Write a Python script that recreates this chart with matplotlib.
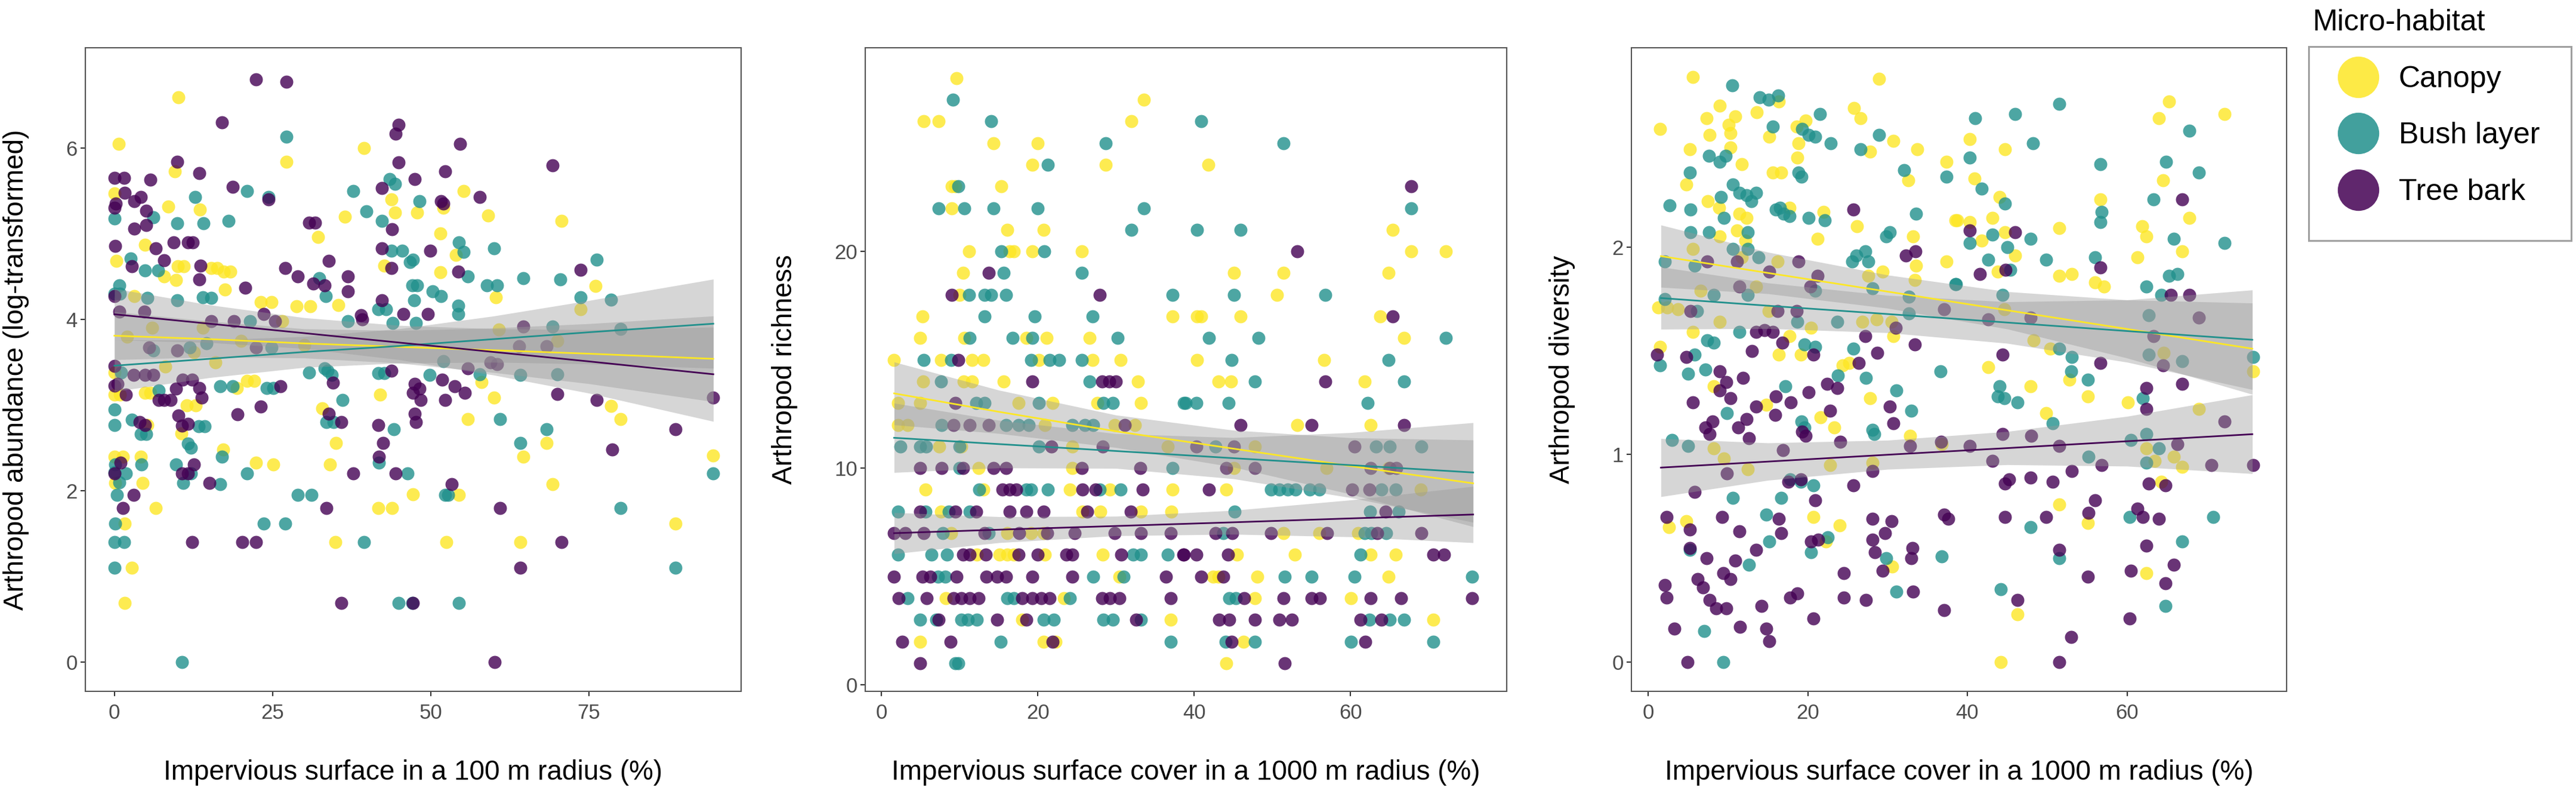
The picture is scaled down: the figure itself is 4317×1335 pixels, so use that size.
import matplotlib
matplotlib.use("Agg")
import matplotlib.pyplot as plt
from matplotlib.lines import Line2D
from matplotlib.patches import Rectangle
import numpy as np

plt.rcParams["font.family"] = ["Liberation Sans", "DejaVu Sans"]

HABITATS = ["Canopy", "Bush layer", "Tree bark"]
COLORS = ["#FDE725", "#21908C", "#440154"]

# ---- panel 1: abundance vs impervious surface (100 m) ----
P1_CANOPY = [
    (10.1, 6.59), (0.7, 6.05), (27.2, 5.84), (9.6, 5.73), (39.5, 6.0), (0, 5.47), (8.5, 5.32), (13.5, 5.28),
    (4.8, 4.87), (0.3, 4.68), (10, 4.62), (11, 4.62), (15.3, 4.6), (16.3, 4.6), (7.9, 4.5), (17.3, 4.56),
    (18.3, 4.56), (9.7, 4.46), (17.5, 4.35), (23.1, 4.2), (24.8, 4.2), (32.2, 4.96), (28.8, 4.15), (31, 4.15),
    (35.4, 4.17), (36.4, 5.2), (43.8, 5.4), (44.4, 5.25), (42.7, 4.63), (3.1, 4.27), (12.6, 3.62), (26.5, 3.98),
    (0, 3.38), (0, 3.12), (0.9, 3.12), (4.8, 3.14), (5.7, 3.14), (11.4, 3.0), (12.9, 3.0), (10.6, 2.67),
    (5.2, 2.77), (19.4, 3.2), (21, 3.28), (22.1, 3.28), (32.9, 2.96), (35, 2.56), (34.1, 2.31), (42, 3.12),
    (0, 2.4), (1.3, 2.4), (0.1, 2.09), (1.6, 1.62), (2.8, 1.1), (1.6, 0.69), (4.2, 2.4), (4.5, 2.09),
    (6.5, 1.8), (17.2, 2.48), (22.4, 2.33), (25.1, 2.31), (34.9, 1.4), (41.7, 1.8), (43.9, 1.8), (47.2, 1.96),
    (55.2, 5.5), (52, 5.3), (47.9, 5.25), (59.1, 5.21), (70.7, 5.15), (51.5, 5.0), (54, 4.75), (51.5, 4.55),
    (76.1, 4.39), (60.3, 4.26), (73.7, 4.12), (60.8, 3.88), (70, 3.75), (58.1, 3.27), (60, 3.09), (78.5, 2.99),
    (80, 2.84), (55.9, 2.84), (68.3, 2.56), (64.7, 2.4), (94.7, 2.41), (69.3, 2.08), (54.5, 1.95), (88.7, 1.62),
    (52.5, 1.4), (64.2, 1.4), (2, 3.8), (6, 3.9), (14, 3.9), (20, 3.75), (8, 3.45), (16, 3.5), (30, 3.7),
]
P1_BUSH = [
    (27.2, 6.13), (21, 5.5), (12.8, 5.43), (24.4, 5.43), (0, 5.18), (6.2, 5.19), (9.9, 5.12), (14.1, 5.12),
    (18, 5.15), (2.6, 4.71), (4.8, 4.57), (6.9, 4.57), (0.8, 4.4), (9.9, 4.22), (14, 4.26), (15.3, 4.25),
    (32.4, 4.48), (33.4, 4.27), (37.8, 5.5), (39.8, 5.26), (36.9, 3.98), (43.5, 5.64), (44.4, 5.58), (42.3, 5.15),
    (43.8, 4.8), (45.5, 4.8), (46.7, 4.67), (47.1, 4.4), (41.7, 4.12), (43, 4.12), (44, 3.96), (47.7, 3.96),
    (0, 4.3), (0.9, 4.3), (5.2, 4.25), (6.2, 3.64), (11.9, 3.67), (14.6, 3.72), (21.4, 3.98), (24.8, 3.67),
    (30.8, 3.38), (33.2, 3.43), (1.1, 3.38), (7, 3.17), (13.3, 2.75), (14.3, 2.75), (11.6, 2.55), (12.1, 2.5),
    (0, 2.95), (0, 2.77), (2.8, 2.83), (4.2, 2.66), (5, 2.66), (16.7, 3.22), (18.7, 3.22), (24.1, 3.2),
    (25.1, 3.2), (33.7, 3.4), (34.4, 3.35), (36.1, 3.06), (33.5, 2.8), (34.7, 2.8), (41.7, 3.37), (42.7, 3.37),
    (41.8, 2.33), (44.2, 2.72), (46.4, 2.2), (0.1, 2.31), (0, 2.22), (1.8, 2.2), (0.8, 2.1), (0.4, 1.95),
    (0.1, 1.62), (0, 1.4), (1.5, 1.4), (0, 1.1), (4.3, 2.31), (9.7, 2.31), (10.9, 2.09), (12.1, 2.2),
    (16.7, 2.08), (17, 2.4), (21, 2.2), (23.6, 1.62), (27, 1.62), (29, 1.95), (31.2, 1.95), (39.5, 1.4),
    (10.7, 0), (44.9, 0.69), (47.1, 0.69), (48.2, 5.38), (54.5, 4.9), (55.2, 4.79), (60, 4.83), (47.2, 4.7),
    (55.9, 4.5), (76.3, 4.7), (64.7, 4.48), (70.5, 4.47), (58.9, 4.4), (60.5, 4.4), (47.9, 4.4), (50.3, 4.33),
    (51.6, 4.27), (47.4, 4.22), (54.4, 4.16), (54.4, 4.06), (73.7, 4.26), (78.5, 4.23), (69.3, 3.92), (80, 3.89),
    (52, 3.51), (57.8, 3.36), (49.8, 3.35), (64.2, 3.35), (70, 3.36), (61, 2.84), (68.3, 2.72), (64.2, 2.56),
    (94.7, 2.2), (52.3, 1.95), (52.8, 1.95), (80, 1.8), (88.7, 1.1), (54.5, 0.69),
]
P1_BARK = [
    (22.4, 6.8), (27.2, 6.77), (17.0, 6.3), (9.9, 5.84), (44.9, 6.27), (44.5, 6.17), (44.9, 5.83), (47.5, 5.64),
    (0, 5.65), (1.5, 5.65), (5.7, 5.63), (13.4, 5.71), (18.7, 5.55), (24.4, 5.4), (1.6, 5.48), (0, 5.3),
    (0.2, 5.35), (3.1, 5.38), (4.2, 5.43), (5, 5.27), (3.1, 5.06), (5, 5.1), (0.1, 4.86), (9.4, 4.9),
    (11.6, 4.9), (12.4, 4.9), (6.5, 4.83), (7.9, 4.69), (2.8, 4.62), (13.4, 4.47), (13.6, 4.63), (20.7, 4.37),
    (0, 4.27), (23.6, 4.06), (27, 4.6), (29, 4.5), (30.8, 5.13), (31.7, 5.13), (31.4, 4.42), (33.2, 4.4),
    (33.9, 4.68), (36.9, 4.33), (36.9, 4.5), (42.3, 5.53), (43.9, 5.05), (42.3, 4.83), (43.8, 4.6), (42.3, 4.22),
    (45.7, 4.06), (39, 4.05), (39.2, 4.0), (0.8, 4.09), (4.7, 4.09), (5.5, 3.67), (9.9, 3.64), (18.9, 3.98),
    (15.3, 3.98), (25.4, 3.98), (22.4, 3.67), (0, 3.46), (0, 3.23), (0.5, 3.25), (1.8, 3.12), (3, 3.35),
    (4.8, 3.35), (6.2, 3.35), (7, 3.06), (7.9, 3.06), (8.9, 3.06), (9.7, 3.19), (10.8, 3.3), (12.3, 3.3),
    (13.4, 3.2), (13.8, 3.09), (10.1, 2.88), (10.7, 2.76), (11.6, 2.78), (4, 2.8), (4.8, 2.77), (19.5, 2.89),
    (23.1, 2.98), (26.3, 3.22), (34.6, 3.26), (33.9, 2.9), (35.9, 2.8), (37.8, 2.2), (43.8, 3.4), (41.7, 2.77),
    (42.5, 2.56), (41.8, 2.4), (44.5, 2.2), (47.2, 3.14), (47.5, 2.9), (47.7, 2.8), (0, 2.2), (1, 2.33),
    (3, 1.95), (1.3, 1.8), (10.7, 2.2), (11.6, 2.2), (12.6, 2.31), (15, 2.09), (12.3, 1.4), (20.2, 1.4),
    (22.4, 1.4), (33.5, 1.8), (35.9, 0.69), (54.7, 6.05), (69.3, 5.8), (52.3, 5.73), (57.8, 5.43), (51.6, 5.38),
    (52, 5.35), (49.9, 4.8), (54.4, 4.56), (73.7, 4.58), (49.6, 4.06), (64.7, 3.92), (64, 3.69), (68.3, 3.69),
    (55.9, 3.43), (59.5, 3.5), (60.5, 3.48), (47.5, 3.25), (48.2, 3.19), (48.4, 3.06), (51.8, 3.3), (53.8, 3.22),
    (55.4, 3.14), (52.3, 3.06), (70, 3.13), (76.3, 3.06), (94.7, 3.09), (88.7, 2.72), (78.7, 2.48), (53.3, 2.08),
    (61, 1.8), (70.7, 1.4), (64.2, 1.1), (47.2, 0.69), (60.1, 0),
]
P1_FIT_X = [0, 15, 30, 45, 60, 75, 94.7]
P1_FIT = [
    [3.81, 3.77, 3.72, 3.68, 3.64, 3.60, 3.54],
    [3.46, 3.54, 3.62, 3.69, 3.77, 3.85, 3.95],
    [4.06, 3.95, 3.84, 3.73, 3.62, 3.51, 3.36],
]
P1_CI = [
    [0.28, 0.21, 0.17, 0.19, 0.26, 0.35, 0.50],
    [0.30, 0.22, 0.18, 0.20, 0.27, 0.37, 0.52],
    [0.30, 0.22, 0.18, 0.20, 0.27, 0.37, 0.55],
]

# ---- panel 2: richness vs impervious surface (1000 m), rows of (richness, [x]) ----
P2_CANOPY = [
    (28, [9.6]), (27, [33.6]), (26, [5.4, 7.3, 32.0]), (25, [14.3, 20.0]), (24, [19.3, 28.7, 41.8]),
    (23, [9.0, 9.4, 15.3]), (22, [9.0]), (21, [16.1, 20.7, 65.4]),
    (20, [11.2, 16.4, 16.9, 19.3, 25.6, 67.8, 72.2]), (19, [10.4, 45.1, 51.4, 64.9]), (18, [10.0, 50.6]),
    (17, [5.2, 37.2, 40.4, 40.9, 45.9, 63.8]), (16, [4.9, 10.6, 18.5, 21.1, 26.6, 66.9]),
    (15, [1.6, 7.6, 11.6, 13.0, 20.1, 27.0, 30.6, 40.4, 56.6]), (14, [5.3, 10.5, 11.6, 15.6, 32.8, 43.1, 44.7, 61.8]),
    (13, [2.1, 4.9, 17.5, 21.9, 27.6, 33.2]), (12, [2.1, 3.3, 20.9, 29.8, 32.4, 53.2, 62.6]),
    (11, [7.4, 10.2, 24.4, 36.6, 47.8]), (10, [12.4, 24.4, 45.1, 56.9, 64.9]),
    (9, [5.6, 13.0, 24.1, 29.2, 37.2, 44.1, 69.0]), (8, [7.6, 25.7, 28.0, 33.2, 37.1]),
    (7, [8.9, 16.1, 19.1, 20.7, 51.4, 56.0, 61.0]),
    (6, [12.2, 15.1, 16.1, 16.9, 20.9, 28.3, 45.5, 52.9, 62.6, 65.8]), (5, [30.4, 42.4, 43.1, 48.1, 64.9]),
    (4, [8.2, 23.3, 47.8, 60.1]), (3, [18.0, 37.0, 70.6]), (2, [4.9, 20.7, 22.3, 46.3]), (1, [44.1]),
]
P2_BUSH = [
    (27, [9.1]), (26, [14.0, 40.9]), (25, [28.7, 51.4]), (24, [21.3]), (23, [9.8]),
    (22, [7.3, 10.6, 14.3, 20.0, 33.6, 67.8]), (21, [32.0, 40.4, 45.9]), (20, [15.3, 20.8]), (19, [15.6, 25.6]),
    (18, [11.2, 13.2, 14.0, 15.9, 37.2, 45.1, 56.8]), (17, [13.2, 19.6, 27.0]),
    (16, [11.3, 16.8, 19.3, 30.2, 41.9, 48.2, 72.2]), (15, [5.4, 8.9, 19.1, 21.5, 22.7, 25.6, 44.8, 64.9]),
    (14, [7.6, 26.6, 47.8, 66.9]), (13, [12.1, 13.2, 20.1, 28.4, 29.6, 38.9, 38.7, 40.3, 44.4, 62.2]),
    (12, [7.7, 15.9, 17.5, 18.8, 24.4, 26.0, 27.1]), (11, [2.4, 4.9, 5.7, 10.0, 20.1, 42.7, 63.3, 65.0, 69.1]),
    (10, [10.0, 37.2]),
    (9, [12.5, 18.5, 19.1, 21.3, 27.9, 30.6, 49.8, 50.9, 52.0, 53.0, 54.8, 56.0, 64.0, 65.8]),
    (8, [2.1, 5.6, 8.6, 11.3, 45.2, 62.5, 66.2]), (7, [7.8, 13.7, 43.7, 61.8, 62.7, 64.6]),
    (6, [2.1, 6.4, 8.4, 32.2, 33.2, 36.6, 61.3]), (5, [7.2, 8.1, 27.1, 31.0, 51.6, 55.0, 60.5, 75.6]),
    (4, [3.3, 16.1, 16.9, 24.1, 44.5, 45.3]),
    (3, [4.9, 7.0, 10.2, 11.0, 12.2, 20.7, 22.0, 28.4, 29.6, 33.2, 62.4, 65.0, 66.9]),
    (2, [15.2, 37.0, 44.0, 47.8, 60.1, 70.6]), (1, [9.4, 9.8]),
]
P2_BARK = [
    (23, [67.8]), (20, [53.2]), (19, [13.7]), (18, [9.0, 27.9]), (17, [65.4]), (15, [9.8]),
    (14, [19.3, 28.2, 29.1, 30.0, 56.8]), (13, [9.4]), (12, [9.2, 11.3, 13.7, 31.1, 45.9, 55.0, 66.9]),
    (11, [21.7, 28.3, 40.3, 45.1, 60.5]),
    (10, [4.9, 7.7, 10.4, 14.3, 15.9, 25.6, 33.1, 44.1, 47.8, 62.6, 65.0, 65.9]),
    (9, [15.5, 16.4, 17.2, 25.7, 27.4, 33.4, 41.9, 60.2, 62.4]),
    (8, [4.9, 9.4, 12.1, 16.4, 18.5, 20.7, 26.3, 31.9, 64.5]),
    (7, [1.6, 3.0, 5.4, 13.2, 17.6, 21.2, 24.7, 29.8, 33.2, 37.0, 42.7, 44.9, 49.8, 57.0, 63.4, 69.1]),
    (6, [10.4, 11.3, 13.3, 17.5, 20.0, 23.6, 24.4, 30.7, 38.6, 38.7, 40.3, 44.3, 70.6, 72.0]),
    (5, [1.6, 5.2, 6.2, 9.6, 13.4, 14.8, 15.9, 19.3, 24.4, 36.4, 40.9, 43.7]),
    (4, [2.2, 5.8, 9.2, 10.2, 11.3, 12.4, 18.0, 19.3, 20.4, 21.5, 28.2, 29.2, 30.4, 37.0, 46.4, 51.4,
         55.0, 56.1, 62.6, 66.5, 75.6]),
    (3, [7.3, 14.8, 18.5, 32.6, 43.2, 44.5, 47.8, 50.9, 52.5, 61.3, 64.0]),
    (2, [2.6, 8.8, 21.9, 44.8, 61.9]), (1, [4.9, 51.6]),
]
P23_FIT_X = [1.6, 15, 30, 45, 60, 75.7]
P2_FIT = [
    [13.45, 12.6, 11.7, 10.9, 10.1, 9.3],
    [11.4, 11.11, 10.79, 10.46, 10.14, 9.8],
    [7.0, 7.16, 7.33, 7.50, 7.68, 7.86],
]
P2_CI = [
    [1.45, 1.0, 0.75, 0.85, 1.3, 2.0],
    [1.6, 1.1, 0.8, 0.95, 1.5, 2.3],
    [0.95, 0.6, 0.45, 0.55, 0.85, 1.3],
]

# ---- panel 3: diversity vs impervious surface (1000 m) ----
P3_CANOPY = [
    (5.6, 2.82), (28.9, 2.81), (1.5, 2.57), (9.0, 2.68), (7.3, 2.62), (7.7, 2.54), (10.1, 2.59), (10.9, 2.63),
    (10.3, 2.55), (13.6, 2.65), (16.4, 2.7), (5.2, 2.47), (10.3, 2.48), (11.7, 2.4), (4.8, 2.3), (15.2, 2.53),
    (18.6, 2.58), (18.8, 2.5), (19.7, 2.61), (18.7, 2.43), (15.6, 2.36), (16.7, 2.36), (7.5, 2.22), (8.9, 2.19),
    (11.4, 2.16), (12.3, 2.14), (17.7, 2.19), (22.0, 2.17), (25.8, 2.67), (26.6, 2.62), (27.8, 2.46), (30.7, 2.51),
    (33.7, 2.47), (37.4, 2.41), (32.6, 2.32), (26.2, 2.1), (21.2, 2.04), (11.1, 2.08), (9.0, 2.05), (12.2, 2.03),
    (33.2, 2.05), (33.6, 1.91), (37.4, 1.93), (38.5, 2.13), (5.6, 1.99), (11.7, 1.95), (16.2, 1.93), (27.6, 1.86),
    (29.4, 1.88), (33.4, 1.84), (1.3, 1.71), (2.4, 1.71), (3.7, 1.70), (6.6, 1.79), (13.5, 1.81), (15.1, 1.69),
    (20.4, 1.61), (26.8, 1.64), (28.6, 1.65), (30.5, 1.64), (9.0, 1.64), (5.6, 1.59), (30.7, 1.57), (1.5, 1.52),
    (17.7, 1.57), (16.4, 1.48), (19.1, 1.48), (24.4, 1.43), (25.2, 1.44), (8.2, 1.33), (14.8, 1.24), (21.6, 1.18),
    (23.3, 1.13), (27.8, 1.27), (32.8, 1.09), (8.2, 1.03), (9.5, 0.98), (12.5, 0.93), (22.8, 0.95), (28.1, 0.96),
    (2.6, 0.65), (4.8, 0.68), (20.7, 0.70), (24.0, 0.66), (22.3, 0.58), (30.6, 0.46), (36.8, 1.05),
    (65.3, 2.7), (64.0, 2.62), (72.2, 2.64), (40.3, 2.52), (44.7, 2.47), (40.9, 2.33), (44.0, 2.24), (56.7, 2.23),
    (64.5, 2.32), (38.7, 2.13), (40.3, 2.12), (43.1, 2.14), (41.8, 2.03), (44.7, 2.07), (46.0, 1.96), (51.5, 2.09),
    (67.8, 2.14), (61.9, 2.1), (62.4, 2.05), (61.3, 1.95), (66.9, 1.98), (43.8, 1.88), (51.5, 1.86), (53.1, 1.87),
    (56.0, 1.83), (57.1, 1.81), (44.6, 1.70), (48.3, 1.55), (50.4, 1.51), (42.6, 1.42), (47.9, 1.33), (52.8, 1.36),
    (55.1, 1.28), (49.9, 1.2), (60.1, 1.25), (69.0, 1.22), (64.6, 1.49), (75.8, 1.4), (62.4, 1.03), (63.5, 0.97),
    (65.9, 0.99), (66.9, 0.94), (64.3, 0.87), (51.5, 0.76), (55.1, 0.67), (62.4, 0.43), (46.3, 0.23), (44.2, 0.0),
]
P3_BUSH = [
    (10.5, 2.78), (14.0, 2.72), (15.1, 2.71), (16.3, 2.73), (15.6, 2.58), (21.5, 2.64), (19.3, 2.57), (20.1, 2.54),
    (20.9, 2.53), (22.9, 2.5), (26.6, 2.47), (28.9, 2.54), (32.1, 2.37), (37.4, 2.34), (7.6, 2.44), (9.0, 2.41),
    (9.7, 2.44), (5.2, 2.36), (18.8, 2.36), (19.2, 2.34), (10.6, 2.3), (11.4, 2.26), (12.3, 2.25), (12.9, 2.22),
    (13.5, 2.26), (9.1, 2.24), (2.7, 2.2), (5.3, 2.18), (9.5, 2.14), (16.0, 2.18), (16.5, 2.19), (17.0, 2.16),
    (17.7, 2.15), (20.1, 2.14), (22.1, 2.13), (33.6, 2.16), (5.3, 2.07), (7.6, 2.07), (12.5, 2.07), (29.8, 2.05),
    (30.3, 2.07), (26.1, 1.96), (27.2, 1.98), (27.6, 1.93), (25.6, 1.93), (10.6, 1.99), (12.5, 1.99), (2.1, 1.93),
    (5.8, 1.91), (13.8, 1.95), (2.1, 1.75), (8.2, 1.77), (6.1, 1.69), (12.5, 1.77), (20.9, 1.79), (28.1, 1.8),
    (32.7, 1.76), (38.5, 1.82), (32.7, 1.68), (23.7, 1.64), (11.4, 1.59), (18.7, 1.64), (7.4, 1.55), (8.2, 1.54),
    (19.6, 1.53), (20.9, 1.52), (1.5, 1.43), (5.0, 1.39), (5.8, 1.48), (7.2, 1.41), (25.7, 1.51), (27.3, 1.37),
    (23.8, 1.38), (36.6, 1.4), (17.2, 1.33), (31.1, 1.31), (9.9, 1.2), (19.2, 1.16), (19.6, 1.13), (28.1, 1.12),
    (28.3, 1.1), (33.0, 1.21), (3.0, 1.07), (5.0, 1.04), (17.8, 0.88), (19.1, 0.87), (20.7, 0.85), (10.6, 0.79),
    (16.7, 0.79), (14.8, 0.71), (22.5, 0.6), (15.2, 0.58), (20.4, 0.53), (5.2, 0.54), (12.6, 0.47), (29.8, 0.5),
    (36.8, 0.51), (31.1, 0.34), (7.0, 0.15), (9.4, 0.0),
    (41.0, 2.62), (46.0, 2.64), (51.5, 2.69), (48.2, 2.5), (67.8, 2.56), (40.3, 2.43), (56.7, 2.4), (64.9, 2.41),
    (69.0, 2.36), (41.8, 2.28), (44.7, 2.21), (63.3, 2.23), (56.8, 2.17), (56.7, 2.12), (43.1, 2.06), (40.3, 2.02),
    (45.0, 2.0), (47.9, 2.04), (42.6, 1.94), (49.9, 1.94), (56.0, 1.95), (45.4, 1.89), (65.9, 2.04), (72.2, 2.02),
    (65.3, 1.86), (66.3, 1.87), (38.6, 1.82), (62.4, 1.81), (64.3, 1.77), (44.4, 1.77), (62.7, 1.67), (51.5, 1.51),
    (53.1, 1.47), (53.0, 1.40), (55.1, 1.36), (62.7, 1.48), (66.9, 1.45), (75.8, 1.47), (44.0, 1.33), (43.8, 1.28),
    (44.6, 1.27), (46.3, 1.25), (50.7, 1.15), (62.0, 1.27), (62.4, 1.1), (60.5, 1.07), (64.0, 1.03), (55.2, 0.99),
    (62.4, 0.96), (60.3, 0.7), (70.8, 0.7), (47.9, 0.65), (66.9, 0.58), (51.5, 0.5), (44.2, 0.35), (64.8, 0.27),
]
P3_BARK = [
    (25.7, 2.18), (32.3, 1.96), (33.5, 1.98), (11.1, 1.93), (18.8, 1.93), (7.4, 1.93), (15.2, 1.88), (21.2, 1.86),
    (11.4, 1.81), (20.3, 1.81), (5.3, 1.69), (37.1, 1.70), (16.2, 1.69), (18.6, 1.69), (13.5, 1.59), (14.6, 1.60),
    (15.6, 1.59), (16.8, 1.54), (27.2, 1.57), (31.0, 1.61), (33.4, 1.53), (13.0, 1.50), (1.1, 1.48), (4.8, 1.47),
    (20.7, 1.48), (28.7, 1.49), (26.4, 1.44), (9.0, 1.40), (9.8, 1.35), (11.9, 1.37), (9.0, 1.31), (10.3, 1.27),
    (16.0, 1.28), (17.9, 1.25), (20.1, 1.30), (22.4, 1.34), (23.7, 1.32), (13.5, 1.23), (15.9, 1.19), (5.6, 1.25),
    (22.8, 1.21), (12.3, 1.17), (30.3, 1.23), (30.7, 1.15), (7.2, 1.13), (8.1, 1.16), (7.7, 1.10), (11.3, 1.13),
    (12.6, 1.08), (19.3, 1.11), (19.7, 1.09), (16.9, 1.02), (24.1, 1.06), (32.8, 1.04), (36.7, 1.06), (28.1, 0.92),
    (9.9, 0.91), (5.8, 0.82), (17.6, 0.87), (19.1, 0.88), (25.7, 0.85), (20.9, 0.78), (2.3, 0.70), (5.2, 0.64),
    (5.2, 0.55), (9.3, 0.70), (11.4, 0.63), (16.4, 0.69), (16.7, 0.62), (28.1, 0.69), (30.5, 0.68), (37.1, 0.71),
    (37.6, 0.69), (29.7, 0.62), (20.4, 0.58), (21.3, 0.59), (28.1, 0.59), (28.4, 0.53), (33.1, 0.55), (33.0, 0.50),
    (13.5, 0.54), (7.3, 0.50), (10.9, 0.49), (29.4, 0.44), (24.5, 0.43), (6.2, 0.40), (6.9, 0.36), (7.7, 0.30),
    (9.4, 0.43), (10.3, 0.40), (8.5, 0.26), (9.8, 0.26), (2.1, 0.37), (2.3, 0.31), (17.8, 0.31), (18.7, 0.33),
    (14.2, 0.27), (24.5, 0.31), (27.3, 0.30), (33.2, 0.34), (37.1, 0.25), (20.7, 0.21), (3.3, 0.16), (11.5, 0.17),
    (14.8, 0.16), (15.2, 0.10), (4.9, 0.0),
    (66.9, 2.23), (40.3, 2.08), (46.0, 2.07), (41.6, 1.87), (44.8, 1.89), (56.7, 1.90), (65.5, 1.77), (67.8, 1.77),
    (42.6, 1.65), (47.9, 1.66), (69.0, 1.66), (63.3, 1.57), (44.4, 1.48), (56.7, 1.44), (64.5, 1.43), (62.4, 1.32),
    (66.9, 1.34), (62.4, 1.22), (72.2, 1.16), (44.4, 1.10), (48.0, 1.09), (40.3, 1.04), (43.1, 0.97), (51.5, 1.04),
    (66.3, 1.05), (56.8, 0.95), (53.1, 0.92), (70.6, 0.95), (75.8, 0.95), (45.2, 0.88), (44.7, 0.86), (47.9, 0.89),
    (50.7, 0.87), (62.7, 0.86), (64.8, 0.85), (56.0, 0.78), (55.2, 0.72), (44.7, 0.70), (49.9, 0.70), (61.3, 0.74),
    (62.0, 0.70), (64.0, 0.69), (62.4, 0.56), (51.5, 0.54), (65.9, 0.47), (60.5, 0.44), (55.1, 0.41), (64.8, 0.38),
    (46.3, 0.30), (60.3, 0.21), (53.0, 0.12), (51.5, 0.0),
]
P3_FIT = [
    [1.956, 1.875, 1.785, 1.695, 1.605, 1.51],
    [1.754, 1.717, 1.677, 1.636, 1.595, 1.553],
    [0.937, 0.966, 0.999, 1.031, 1.064, 1.098],
]
P3_CI = [
    [0.15, 0.10, 0.08, 0.09, 0.14, 0.22],
    [0.15, 0.11, 0.09, 0.10, 0.15, 0.24],
    [0.14, 0.09, 0.07, 0.08, 0.12, 0.19],
]

X_LABELS = [
    "Impervious surface in a 100 m radius (%)",
    "Impervious surface cover in a 1000 m radius (%)",
    "Impervious surface cover in a 1000 m radius (%)",
]
Y_LABELS = ["Arthropod abundance (log-transformed)", "Arthropod richness", "Arthropod diversity"]


def rows_to_points(rows):
    return [(x, v) for v, xs in rows for x in xs]


def draw_panel(ax, groups, fit_x, fits, cis, xlim, ylim, xticks, yticks, xlabel, ylabel):
    for pts, color in zip(groups, COLORS):
        pts = np.asarray(pts, dtype=float)
        ax.scatter(pts[:, 0], pts[:, 1], s=250, color=color, alpha=0.8, linewidths=0, zorder=2)
    fx = np.asarray(fit_x, dtype=float)
    for fit, ci in zip(fits, cis):
        fit, ci = np.asarray(fit), np.asarray(ci)
        ax.fill_between(fx, fit - ci, fit + ci, color="#999999", alpha=0.4, linewidth=0, zorder=3)
    for fit, color in zip(fits, COLORS):
        ax.plot(fx, fit, color=color, lw=2, zorder=4)
    ax.set_xlim(*xlim)
    ax.set_ylim(*ylim)
    ax.set_xticks(xticks)
    ax.set_yticks(yticks)
    ax.tick_params(length=5.5, width=1.5, color="#333333", labelsize=25, labelcolor="#4D4D4D")
    ax.tick_params(axis="x", pad=9)
    ax.tick_params(axis="y", pad=4)
    for sp in ax.spines.values():
        sp.set_color("#555555")
        sp.set_linewidth(1.5)
    ax.set_xlabel(xlabel, fontsize=33, labelpad=44)
    ax.set_ylabel(ylabel, fontsize=33, labelpad=44)


W, H = 4317, 1335
fig = plt.figure(figsize=(W / 100, H / 100), dpi=100)
bottom, height = (H - 1158) / H, 1078 / H
ax1 = fig.add_axes([143 / W, bottom, 1099 / W, height])
ax2 = fig.add_axes([1450 / W, bottom, 1075 / W, height])
ax3 = fig.add_axes([2734 / W, bottom, 1098 / W, height])

draw_panel(ax1, [P1_CANOPY, P1_BUSH, P1_BARK], P1_FIT_X, P1_FIT, P1_CI,
           (-4.6, 99.1), (-0.34, 7.17), [0, 25, 50, 75], [0, 2, 4, 6], X_LABELS[0], Y_LABELS[0])
draw_panel(ax2, [rows_to_points(P2_CANOPY), rows_to_points(P2_BUSH), rows_to_points(P2_BARK)],
           P23_FIT_X, P2_FIT, P2_CI, (-2.1, 80.0), (-0.3, 29.4), [0, 20, 40, 60], [0, 10, 20],
           X_LABELS[1], Y_LABELS[1])
draw_panel(ax3, [P3_CANOPY, P3_BUSH, P3_BARK], P23_FIT_X, P3_FIT, P3_CI,
           (-2.1, 80.0), (-0.141, 2.96), [0, 20, 40, 60], [0, 1, 2], X_LABELS[2], Y_LABELS[2])

# legend: title sits above a plain grey box, as in ggplot
fig.text(3876 / W, 1 - 38 / H, "Micro-habitat", fontsize=36, ha="left", va="center")
fig.add_artist(Rectangle((3869 / W, 1 - 403 / H), 440 / W, 325 / H, transform=fig.transFigure,
                         fill=False, edgecolor="#A0A0A0", linewidth=2.2))
handles = [Line2D([], [], linestyle="none", marker="o", markersize=50, markerfacecolor=c,
                  markeredgewidth=0, alpha=0.85) for c in COLORS]
fig.legend(handles, HABITATS, loc="upper left", bbox_to_anchor=(3927 / W, 1 - 110 / H),
           frameon=False, fontsize=36, borderpad=0, borderaxespad=0, handlelength=1.0,
           handletextpad=0.86, labelspacing=0.97)

fig.savefig("out.png", dpi=100)
